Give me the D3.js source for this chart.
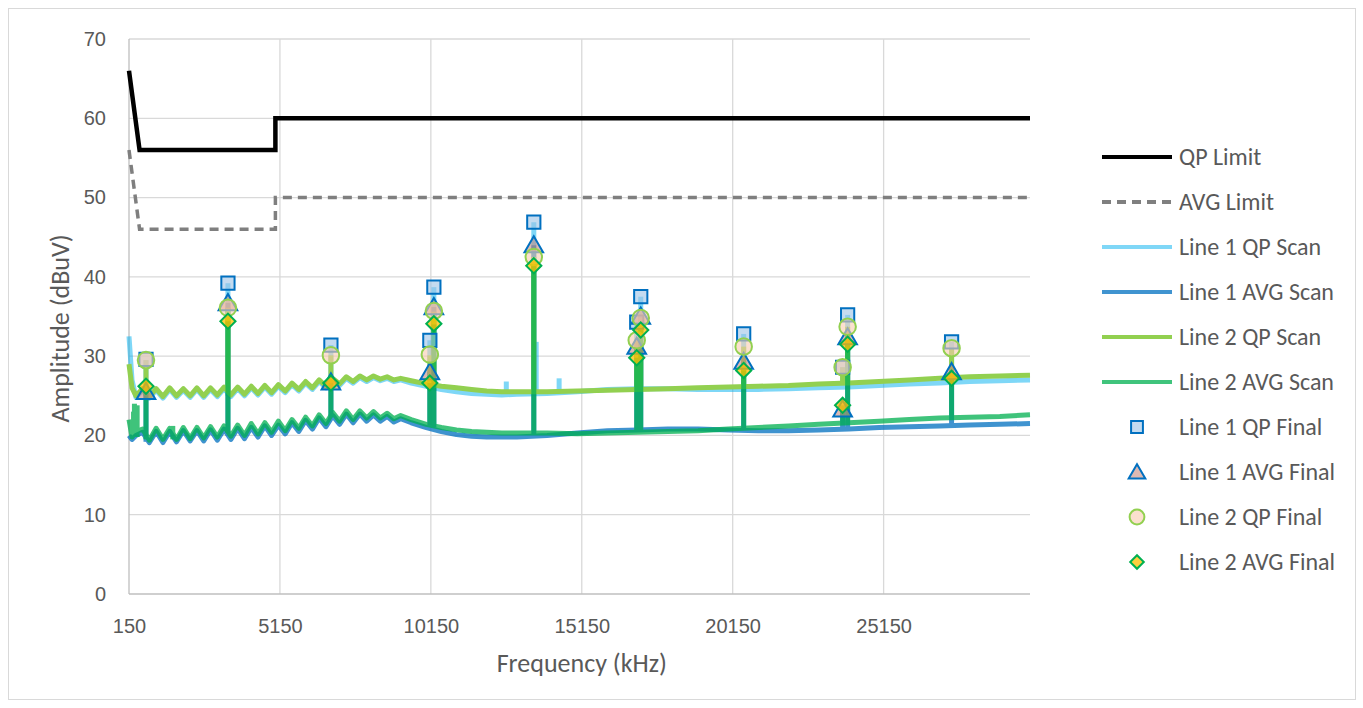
<!DOCTYPE html>
<html>
<head>
<meta charset="utf-8">
<script src="https://cdn.jsdelivr.net/npm/d3@7/dist/d3.min.js"></script>
<style>
  html, body { margin: 0; padding: 0; background: #ffffff; }
  svg { display: block; font-family: Carlito, Calibri, Lato, "Open Sans", sans-serif; }
</style>
</head>
<body>
<svg id="chart" width="1363" height="708"></svg>
<script>
// ---- Limits (kHz, dBuV) ----
const qpLimit  = [[150, 66], [500, 56], [5000, 56], [5000, 60], [30000, 60]];
const avgLimit = [[150, 56], [500, 46], [5000, 46], [5000, 50], [30000, 50]];

// ---- Scan traces: shared frequency grid (kHz) and per-trace levels (dBuV) ----
const scanFreqs = [150, 250, 380, 600, 825, 1050, 1275, 1500, 1725, 1950, 2175, 2400, 2625, 2850, 3075,
  3300, 3525, 3750, 3975, 4200, 4425, 4650, 4875, 5100, 5325, 5550, 5775, 6000, 6225, 6450, 6675, 6900,
  7125, 7350, 7575, 7800, 8025, 8250, 8475, 8700, 8925, 9150, 9500, 10000, 10500, 11000, 11500, 12000,
  12500, 13000, 14000, 15000, 16000, 17000, 18000, 19000, 20000, 21000, 22000, 23000, 24000, 25000,
  26000, 27000, 28000, 29000, 30000];

const line1QpScan = [32.5, 27.0, 24.8, 25.7, 24.7, 25.7, 24.7, 25.8, 24.8, 25.7, 24.8, 25.8, 24.8, 25.8, 24.9,
  25.9, 24.9, 25.9, 25.0, 26.0, 25.1, 26.1, 25.2, 26.2, 25.4, 26.4, 25.6, 26.6, 25.8, 26.8, 26.0, 27.0,
  26.3, 27.2, 26.6, 27.3, 26.8, 27.3, 26.9, 27.2, 26.8, 27.0, 26.6, 26.2, 25.8, 25.5, 25.3, 25.2,
  25.1, 25.2, 25.3, 25.5, 25.8, 25.9, 25.9, 25.8, 25.8, 25.8, 25.9, 26.0, 26.1, 26.3,
  26.5, 26.6, 26.8, 26.9, 27.0];

const line1AvgScan = [20.0, 19.5, 20.0, 20.4, 19.1, 20.5, 19.1, 20.5, 19.2, 20.6, 19.3, 20.6, 19.3, 20.7, 19.4,
  20.8, 19.5, 20.9, 19.6, 21.0, 19.8, 21.2, 20.0, 21.3, 20.2, 21.6, 20.5, 21.9, 20.8, 22.2, 21.1, 22.5,
  21.4, 22.7, 21.6, 22.7, 21.8, 22.6, 21.8, 22.4, 21.7, 22.1, 21.6, 21.0, 20.5, 20.1, 19.9, 19.8,
  19.8, 19.8, 20.0, 20.3, 20.6, 20.7, 20.8, 20.8, 20.7, 20.6, 20.6, 20.7, 20.8, 21.0,
  21.1, 21.2, 21.3, 21.4, 21.5];

const line2QpScan = [29.0, 26.0, 25.0, 25.9, 24.9, 25.9, 24.9, 26.0, 25.0, 25.9, 25.0, 26.0, 25.0, 26.0, 25.1,
  26.1, 25.1, 26.1, 25.2, 26.2, 25.3, 26.3, 25.4, 26.4, 25.6, 26.6, 25.8, 26.8, 26.0, 27.0, 26.2, 27.2,
  26.5, 27.4, 26.8, 27.5, 27.0, 27.5, 27.1, 27.4, 27.0, 27.2, 26.9, 26.5, 26.2, 26.0, 25.8, 25.6,
  25.5, 25.5, 25.5, 25.6, 25.7, 25.8, 25.9, 26.0, 26.1, 26.2, 26.3, 26.5, 26.6, 26.8,
  27.0, 27.2, 27.4, 27.5, 27.6];

const line2AvgScan = [22.0, 19.8, 20.5, 20.8, 19.4, 20.9, 19.5, 20.9, 19.5, 21.0, 19.6, 21.0, 19.7, 21.1, 19.8,
  21.2, 19.9, 21.3, 20.0, 21.5, 20.2, 21.6, 20.4, 21.8, 20.6, 22.0, 20.9, 22.3, 21.2, 22.6, 21.5, 22.9,
  21.8, 23.1, 22.0, 23.1, 22.2, 23.0, 22.2, 22.8, 22.1, 22.5, 22.0, 21.4, 21.0, 20.7, 20.5, 20.4,
  20.3, 20.3, 20.3, 20.2, 20.3, 20.4, 20.5, 20.6, 20.8, 21.0, 21.2, 21.4, 21.6, 21.8,
  22.0, 22.2, 22.3, 22.4, 22.6];

// ---- Narrow-band peaks in each scan: [kHz, floor dBuV, peak dBuV] ----
const line1QpPeaks = [[713, 25.0, 29.5], [3428, 25.0, 39.2], [6839, 26.5, 31.4], [10117, 26.5, 32.0],
  [10250, 26.5, 38.7], [12650, 25.2, 26.8], [13561, 25.2, 46.9], [13640, 25.2, 31.8], [14400, 25.3, 27.2],
  [16971, 25.8, 34.3], [17104, 25.8, 37.5], [20514, 25.8, 32.8], [23792, 26.0, 28.6], [23958, 26.0, 35.2],
  [27402, 26.6, 31.8]];
const line1AvgPeaks = [[713, 19.2, 25.5], [3428, 20.0, 36.7], [6839, 22.0, 26.7], [10117, 21.2, 28.0],
  [10250, 21.0, 36.2], [13561, 19.8, 44.0], [16971, 20.6, 31.2], [17104, 20.6, 35.0], [20514, 20.6, 29.3],
  [23792, 20.7, 23.2], [23958, 20.7, 32.4], [27402, 21.1, 28.0]];
const line2QpPeaks = [[713, 25.0, 29.5], [3428, 25.5, 36.1], [6839, 26.8, 30.1], [10117, 26.5, 30.1],
  [10250, 26.4, 35.6], [13561, 25.5, 42.5], [16971, 25.8, 32.0], [17104, 25.8, 34.8], [20514, 26.1, 31.2],
  [23792, 26.5, 28.6], [23958, 26.5, 33.7], [27402, 27.2, 31.0]];
const line2AvgPeaks = [[300, 19.8, 23.0], [330, 19.8, 24.0], [420, 19.8, 23.8], [713, 19.5, 26.2],
  [1600, 19.5, 21.2], [3428, 20.3, 34.4], [6839, 22.3, 26.6], [10117, 21.4, 26.6], [10250, 21.3, 34.0],
  [13561, 20.3, 41.4], [16971, 20.4, 29.8], [17104, 20.4, 33.3], [20514, 20.8, 28.2], [23792, 21.5, 23.8],
  [23958, 21.5, 31.4], [27402, 22.2, 27.2]];

// ---- Final measurements: [kHz, dBuV] ----
const line1QpFinal  = [[713, 29.6], [3428, 39.2], [6839, 31.4], [10117, 32.0], [10250, 38.7], [13561, 46.9],
  [16971, 34.3], [17104, 37.5], [20514, 32.8], [23792, 28.6], [23958, 35.2], [27402, 31.8]];
const line1AvgFinal = [[713, 25.5], [3428, 36.7], [6839, 26.7], [10117, 28.0], [10250, 36.2], [13561, 44.0],
  [16971, 31.2], [17104, 35.0], [20514, 29.3], [23792, 23.3], [23958, 32.4], [27402, 28.0]];
const line2QpFinal  = [[713, 29.5], [3428, 36.1], [6839, 30.1], [10117, 30.2], [10250, 35.7], [13561, 42.5],
  [16971, 32.0], [17104, 34.8], [20514, 31.2], [23792, 28.6], [23958, 33.7], [27402, 31.0]];
const line2AvgFinal = [[713, 26.2], [3428, 34.4], [6839, 26.6], [10117, 26.6], [10250, 34.1], [13561, 41.4],
  [16971, 29.8], [17104, 33.3], [20514, 28.2], [23792, 23.8], [23958, 31.5], [27402, 27.2]];

// ---- Axes ----
const xTicks = [150, 5150, 10150, 15150, 20150, 25150];
const yTicks = [0, 10, 20, 30, 40, 50, 60, 70];

const legendNames = ["QP Limit", "AVG Limit", "Line 1 QP Scan", "Line 1 AVG Scan", "Line 2 QP Scan",
  "Line 2 AVG Scan", "Line 1 QP Final", "Line 1 AVG Final", "Line 2 QP Final", "Line 2 AVG Final"];

// ---- Styling ----
const textColor = "#595959";
const gridColor = "#d9d9d9";
const styles = {
  qpLimit:   { stroke: "#000000", width: 4.5 },
  avgLimit:  { stroke: "#7f7f7f", width: 3.5, dash: "9,6" },
  l1Qp:      { stroke: "#00b0f0", opacity: 0.5, width: 5 },
  l1Avg:     { stroke: "#0070c0", opacity: 0.75, width: 5 },
  l2Qp:      { stroke: "#92d050", opacity: 1, width: 5 },
  l2Avg:     { stroke: "#00b050", opacity: 0.75, width: 5 }
};

const svg = d3.select("#chart");
const margin = { left: 129, top: 39, right: 1363 - 1030, bottom: 708 - 594 };
const W = 1363 - margin.left - margin.right;
const H = 708 - margin.top - margin.bottom;

// outer chart frame
svg.append("rect").attr("x", 8.5).attr("y", 8.5).attr("width", 1347).attr("height", 691)
  .attr("fill", "#ffffff").attr("stroke", gridColor).attr("stroke-width", 1);

const x = d3.scaleLinear().domain([150, 30000]).range([0, W]);
const y = d3.scaleLinear().domain([0, 70]).range([H, 0]);

const g = svg.append("g").attr("transform", `translate(${margin.left},${margin.top})`);

// gridlines
g.append("g").selectAll("line.h").data(yTicks.filter(d => d > 0)).join("line")
  .attr("x1", 0).attr("x2", W).attr("y1", d => y(d)).attr("y2", d => y(d))
  .attr("stroke", gridColor).attr("stroke-width", 1.3);
g.append("g").selectAll("line.v").data(xTicks.filter(d => d > 150)).join("line")
  .attr("x1", d => x(d)).attr("x2", d => x(d)).attr("y1", 0).attr("y2", H)
  .attr("stroke", gridColor).attr("stroke-width", 1.3);

// axes
const xAxis = d3.axisBottom(x).tickValues(xTicks).tickSize(0).tickPadding(32).tickFormat(d3.format("d"));
const yAxis = d3.axisLeft(y).tickValues(yTicks).tickSize(0).tickPadding(23);
const gx = g.append("g").attr("transform", `translate(0,${H})`).call(xAxis);
const gy = g.append("g").call(yAxis);
[gx, gy].forEach(a => {
  a.select(".domain").attr("stroke", "#bfbfbf").attr("stroke-width", 1.3);
  a.selectAll("text").attr("fill", textColor).style("font-size", "20px");
});
gx.selectAll("text").attr("dy", "0").attr("dominant-baseline", "central");
gx.select(".domain").attr("d", `M0,0H${W}`);
gy.select(".domain").attr("d", `M0,0V${H}`);

// axis titles
svg.append("text").attr("x", margin.left + x(15150)).attr("y", 663).attr("dy", "0.35em")
  .attr("text-anchor", "middle")
  .attr("fill", textColor).style("font-size", "26px").text("Frequency (kHz)");
svg.append("text").attr("transform", `translate(60,${margin.top + H / 2 + 12}) rotate(-90)`)
  .attr("dy", "0.35em")
  .attr("text-anchor", "middle").attr("fill", textColor).style("font-size", "26px").text("Amplitude (dBuV)");

const line = d3.line().x(d => x(d[0])).y(d => y(d[1]));

function drawScan(levels, peaks, st) {
  const pts = scanFreqs.map((f, i) => [f, levels[i]]);
  const grp = g.append("g").attr("opacity", st.opacity);
  grp.append("path").datum(pts).attr("d", line).attr("fill", "none")
    .attr("stroke", st.stroke).attr("stroke-width", st.width).attr("stroke-linejoin", "round");
  grp.selectAll("line").data(peaks).join("line")
    .attr("x1", d => x(d[0])).attr("x2", d => x(d[0]))
    .attr("y1", d => y(d[1])).attr("y2", d => y(d[2]))
    .attr("stroke", st.stroke).attr("stroke-width", st.width);
}

// limits
g.append("path").datum(qpLimit).attr("d", line).attr("fill", "none")
  .attr("stroke", styles.qpLimit.stroke).attr("stroke-width", styles.qpLimit.width);
g.append("path").datum(avgLimit).attr("d", line).attr("fill", "none")
  .attr("stroke", styles.avgLimit.stroke).attr("stroke-width", styles.avgLimit.width)
  .attr("stroke-dasharray", styles.avgLimit.dash);

// scans
drawScan(line1QpScan, line1QpPeaks, styles.l1Qp);
drawScan(line1AvgScan, line1AvgPeaks, styles.l1Avg);
drawScan(line2QpScan, line2QpPeaks, styles.l2Qp);
drawScan(line2AvgScan, line2AvgPeaks, styles.l2Avg);

// marker shapes
const markerDefs = [
  { data: line1QpFinal,  sym: d3.symbolSquare,   size: 175, fill: "#9dc3e6", fo: 0.6,  stroke: "#0070c0", rot: 0 },
  { data: line1AvgFinal, sym: d3.symbolTriangle, size: 150, fill: "#c48a80", fo: 0.6,  stroke: "#0070c0", rot: 0 },
  { data: line2QpFinal,  sym: d3.symbolCircle,   size: 215, fill: "#f8cbad", fo: 0.6,  stroke: "#92d050", rot: 0 },
  { data: line2AvgFinal, sym: d3.symbolSquare,   size: 115, fill: "#ffc000", fo: 0.75, stroke: "#00b050", rot: 45 }
];
function markerTransform(m, px, py) {
  const dy = m.sym === d3.symbolTriangle ? 1.8 : 0;
  return `translate(${px},${py + dy})` + (m.rot ? ` rotate(${m.rot})` : "");
}
markerDefs.forEach(m => {
  g.append("g").selectAll("path").data(m.data).join("path")
    .attr("transform", d => markerTransform(m, x(d[0]), y(d[1])))
    .attr("d", d3.symbol(m.sym, m.size)())
    .attr("fill", m.fill).attr("fill-opacity", m.fo)
    .attr("stroke", m.stroke).attr("stroke-width", 2);
});

// legend
const legend = svg.append("g").attr("transform", "translate(1102,157)");
const rowH = 45.0;
const lineStyles = [styles.qpLimit, styles.avgLimit, styles.l1Qp, styles.l1Avg, styles.l2Qp, styles.l2Avg];
legendNames.forEach((name, i) => {
  const row = legend.append("g").attr("transform", `translate(0,${i * rowH})`);
  if (i < 6) {
    const st = lineStyles[i];
    row.append("line").attr("x1", 0).attr("x2", 70).attr("y1", 0).attr("y2", 0)
      .attr("stroke", st.stroke).attr("stroke-width", 4)
      .attr("stroke-opacity", st.opacity == null ? 1 : st.opacity)
      .attr("stroke-dasharray", st.dash || null);
  } else {
    const m = markerDefs[i - 6];
    row.append("path").attr("transform", markerTransform(m, 35, 0))
      .attr("d", d3.symbol(m.sym, m.size * 0.8)())
      .attr("fill", m.fill).attr("fill-opacity", m.fo)
      .attr("stroke", m.stroke).attr("stroke-width", 2);
  }
  row.append("text").attr("x", 77).attr("y", 0).attr("dy", "0.35em")
    .attr("fill", textColor).style("font-size", "24px").text(name);
});
</script>
</body>
</html>
